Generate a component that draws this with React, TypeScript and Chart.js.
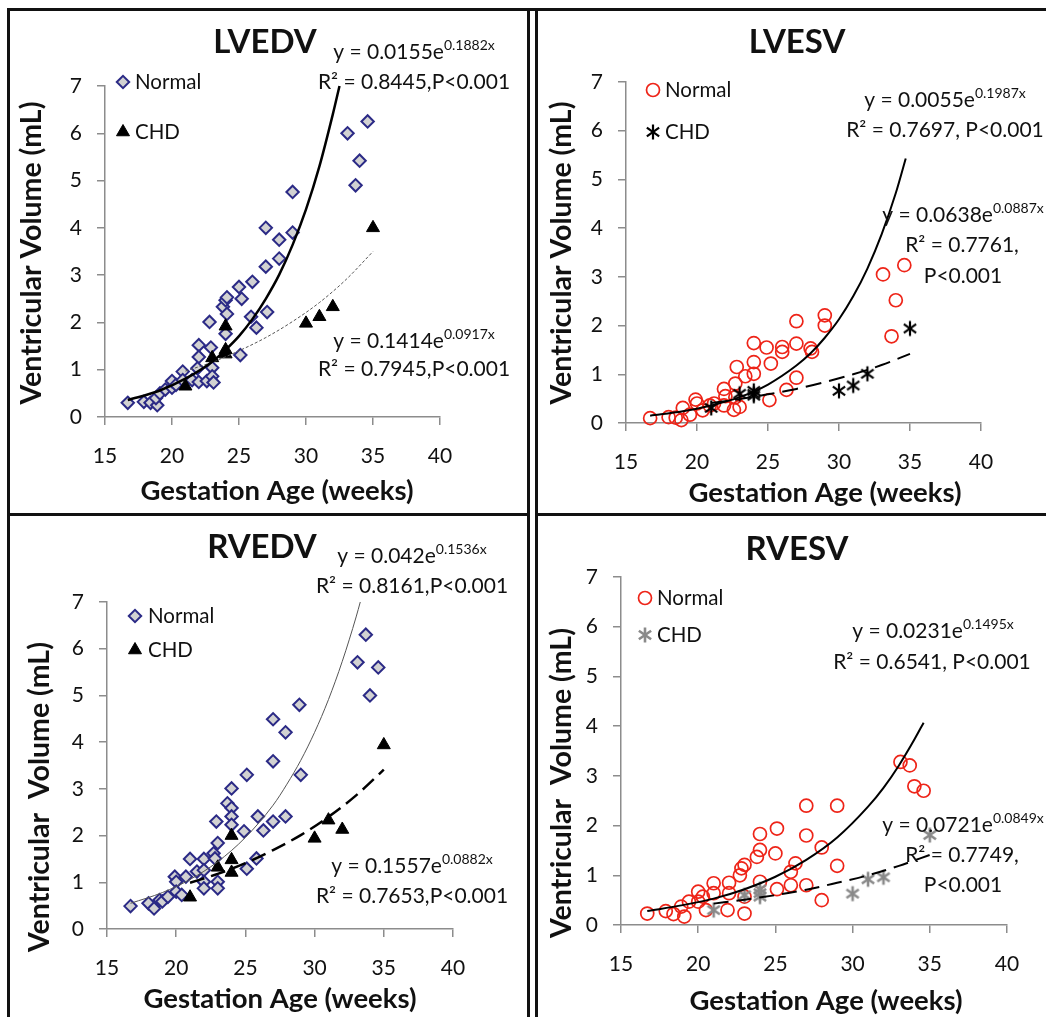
import { useEffect, useRef } from 'react'
import { Chart, registerables } from 'chart.js'
import { drawPoint } from 'chart.js/helpers'

Chart.register(...registerables)

type Pt = [number, number]

// axes shared by all four panels
const X_TICKS = [15, 20, 25, 30, 35, 40]
const Y_TICKS = [0, 1, 2, 3, 4, 5, 6, 7]
const SERIES = ['Normal', 'CHD']
const X_TITLE = 'Gestation Age (weeks)'

// LVEDV
const LVEDV_NORMAL: Pt[] = [
  [16.7, 0.3], [17.9, 0.32], [18.4, 0.3], [18.9, 0.25], [18.8, 0.4], [19.1, 0.5], [19.5, 0.58],
  [20.0, 0.62], [20.0, 0.76], [20.3, 0.68], [20.8, 0.96], [20.8, 0.78], [21.5, 0.78], [22.0, 1.52],
  [22.0, 1.27], [21.9, 1.03], [22.0, 0.74], [22.6, 0.76], [22.9, 1.47], [22.8, 2.01], [23.0, 1.04],
  [23.0, 0.86], [23.1, 0.73], [23.8, 2.33], [24.0, 2.47], [24.1, 2.53], [24.1, 2.18], [24.0, 1.76],
  [25.0, 2.75], [25.2, 2.5], [25.1, 1.31], [26.0, 2.86], [25.9, 2.12], [26.3, 1.89], [27.0, 4.0],
  [27.0, 3.18], [27.1, 2.22], [28.0, 3.75], [28.0, 3.35], [29.0, 4.76], [29.0, 3.9], [33.1, 6.0],
  [33.7, 4.9], [34.0, 5.42], [34.6, 6.25],
]
const LVEDV_CHD: Pt[] = [
  [21, 0.65], [23, 1.25], [24, 1.92], [24, 1.42], [24, 1.33], [30, 1.98], [31, 2.12], [32, 2.33], [35, 4.0],
]
const LVEDV_NORMAL_FIT: Pt[] = [
  [16.7, 0.36], [19, 0.55], [21, 0.81], [23, 1.17], [24, 1.42], [25, 1.71], [26, 2.07], [27, 2.5],
  [28, 3.01], [29, 3.64], [30, 4.39], [31, 5.3], [32, 6.4], [32.5, 7.0],
]
const LVEDV_CHD_FIT: Pt[] = [
  [21, 0.97], [23, 1.16], [25, 1.4], [27, 1.68], [29, 2.02], [31, 2.42], [33, 2.91], [35, 3.5],
]

// LVESV
const LVESV_NORMAL: Pt[] = [
  [16.7, 0.1], [18.0, 0.12], [18.5, 0.11], [18.9, 0.06], [19.0, 0.31], [19.5, 0.17], [19.9, 0.48],
  [20.0, 0.4], [20.4, 0.26], [20.9, 0.36], [21.2, 0.4], [21.9, 0.7], [22.0, 0.55], [21.9, 0.36],
  [22.7, 0.81], [22.8, 1.15], [22.7, 0.53], [23.0, 0.33], [22.6, 0.27], [23.4, 0.96], [24.0, 1.25],
  [24.0, 1.01], [24.0, 1.64], [25.2, 1.22], [24.9, 1.55], [25.1, 0.47], [26.0, 1.56], [26.0, 1.46],
  [26.3, 0.68], [27.0, 2.09], [27.0, 1.63], [27.0, 0.93], [28.0, 1.53], [28.1, 1.46], [29.0, 2.21],
  [29.0, 2.0], [33.1, 3.05], [34.6, 3.24], [34.0, 2.52], [33.7, 1.78],
]
const LVESV_CHD: Pt[] = [
  [21, 0.31], [23, 0.6], [24, 0.66], [24, 0.6], [24, 0.56], [30, 0.66], [31, 0.77], [32, 1.01], [35, 1.94],
]
const LVESV_NORMAL_FIT: Pt[] = [
  [16.7, 0.15], [19, 0.24], [21, 0.36], [23, 0.53], [25, 0.79], [27, 1.18], [28, 1.43], [29, 1.75],
  [30, 2.13], [31, 2.6], [32, 3.17], [33, 3.87], [34, 4.72], [34.7, 5.43],
]
const LVESV_CHD_FIT: Pt[] = [
  [21, 0.41], [23, 0.49], [25, 0.59], [27, 0.7], [29, 0.84], [31, 1.0], [33, 1.19], [35, 1.42],
]

// RVEDV
const RVEDV_NORMAL: Pt[] = [
  [16.7, 0.49], [18.0, 0.55], [18.4, 0.44], [18.8, 0.62], [19.0, 0.59], [19.4, 0.69], [19.9, 1.12],
  [20.0, 1.01], [20.0, 0.8], [20.4, 0.73], [21.0, 1.5], [20.7, 1.12], [21.5, 1.23], [22.0, 1.5],
  [22.0, 1.26], [22.0, 1.01], [22.0, 0.87], [22.7, 1.62], [22.8, 1.51], [22.9, 2.3], [23.0, 1.84],
  [23.0, 1.01], [23.0, 0.87], [23.7, 2.69], [24.0, 3.01], [24.0, 2.59], [24.0, 2.41], [24.0, 2.23],
  [25.1, 3.3], [24.9, 2.09], [25.1, 1.29], [25.9, 2.41], [26.3, 2.11], [25.8, 1.51], [27.0, 4.49],
  [27.0, 3.59], [27.0, 2.3], [27.9, 4.21], [27.9, 2.41], [28.9, 4.8], [29.0, 3.3], [33.1, 5.71],
  [33.7, 6.3], [34.0, 5.0], [34.6, 5.6],
]
const RVEDV_CHD: Pt[] = [
  [21, 0.68], [23, 1.32], [24, 2.0], [24, 1.48], [24, 1.21], [30, 1.94], [31, 2.33], [32, 2.13], [35, 3.94],
]
const RVEDV_NORMAL_FIT: Pt[] = [
  [16.7, 0.55], [19, 0.78], [21, 1.06], [23, 1.44], [25, 1.96], [27, 2.65], [28, 3.1], [29, 3.61],
  [30, 4.21], [31, 4.91], [32, 5.73], [33, 6.68], [33.3, 7.0],
]
const RVEDV_CHD_FIT: Pt[] = [
  [21, 0.99], [23, 1.18], [25, 1.41], [27, 1.69], [29, 2.01], [31, 2.4], [33, 2.86], [35, 3.41],
]

// RVESV
const RVESV_NORMAL: Pt[] = [
  [16.7, 0.23], [17.9, 0.28], [18.4, 0.22], [19.1, 0.17], [18.9, 0.37], [19.4, 0.47], [20.0, 0.67],
  [20.0, 0.47], [20.3, 0.57], [20.5, 0.3], [21.0, 0.84], [21.0, 0.64], [22.0, 0.85], [22.0, 0.64],
  [21.9, 0.3], [22.7, 1.0], [22.8, 1.14], [23.0, 1.21], [23.0, 0.57], [23.0, 0.23], [23.8, 1.37],
  [24.0, 1.83], [24.0, 1.51], [24.0, 0.87], [25.1, 1.94], [25.0, 1.44], [25.1, 0.72], [26.0, 1.07],
  [26.3, 1.24], [26.0, 0.8], [27.0, 2.4], [27.0, 1.8], [27.0, 0.8], [28.0, 1.56], [28.0, 0.5],
  [29.0, 2.4], [29.0, 1.19], [33.1, 3.28], [33.7, 3.21], [34.0, 2.79], [34.6, 2.7],
]
const RVESV_CHD: Pt[] = [
  [21, 0.3], [23, 0.6], [24, 0.72], [24, 0.64], [24, 0.57], [30, 0.63], [31, 0.92], [32, 0.96], [35, 1.81],
]
const RVESV_NORMAL_FIT: Pt[] = [
  [16.7, 0.28], [19, 0.4], [21, 0.53], [23, 0.72], [25, 0.97], [27, 1.31], [29, 1.76], [31, 2.38],
  [32, 2.76], [33, 3.21], [34, 3.73], [34.6, 4.07],
]
const RVESV_CHD_FIT: Pt[] = [
  [21, 0.43], [23, 0.51], [25, 0.6], [27, 0.71], [29, 0.85], [31, 1.0], [33, 1.19], [35, 1.41],
]

const FONT = 'Lato, "Open Sans", sans-serif'
const INK = '#111111'
const AXIS = '#8c8c8c'
const Y_AXIS_W = 60
const X_AXIS_H = 62

type Marker = 'diamond' | 'circle' | 'triangle' | 'asterisk' | 'asteriskGray'
type Part = { t: string; sup?: boolean }
type Label = { parts: Part[]; x: number; y: number }
type LineStyle = { color: string; width: number; dash: number[] }

interface Panel {
  title: string
  box: { left: number; top: number; width: number; height: number }
  area: { left: number; top: number; right: number; bottom: number }
  normal: Pt[]
  chd: Pt[]
  normalFit: Pt[]
  chdFit: Pt[]
  normalMarker: Marker
  chdMarker: Marker
  normalLine: LineStyle
  chdLine: LineStyle
  titlePos: { x: number; y: number }
  legend: { x: number; textX: number; rows: number[] }
  labels: Label[]
  yTitle: { text: string; x: number; y: number }
  xTitle: { x: number; y: number }
}

const eq = (main: string, sup: string): Part[] => [{ t: main }, { t: sup, sup: true }]
const txt = (t: string): Part[] => [{ t }]

const PANELS: Panel[] = [
  {
    title: 'LVEDV',
    box: { left: 0, top: 0, width: 528, height: 514 },
    area: { left: 105, top: 86, right: 440, bottom: 417 },
    normal: LVEDV_NORMAL, chd: LVEDV_CHD, normalFit: LVEDV_NORMAL_FIT, chdFit: LVEDV_CHD_FIT,
    normalMarker: 'diamond', chdMarker: 'triangle',
    normalLine: { color: '#000000', width: 2.5, dash: [] },
    chdLine: { color: '#555555', width: 1, dash: [3, 2] },
    titlePos: { x: 265, y: 53 },
    legend: { x: 123, textX: 135, rows: [82, 132] },
    labels: [
      { parts: eq('y = 0.0155e', '0.1882x'), x: 414, y: 59 },
      { parts: txt('R² = 0.8445,P<0.001'), x: 414, y: 89 },
      { parts: eq('y = 0.1414e', '0.0917x'), x: 414, y: 348 },
      { parts: txt('R² = 0.7945,P<0.001'), x: 414, y: 376 },
    ],
    yTitle: { text: 'Ventricular Volume (mL)', x: 32, y: 253 },
    xTitle: { x: 277, y: 500 },
  },
  {
    title: 'LVESV',
    box: { left: 536, top: 0, width: 510, height: 514 },
    area: { left: 90, top: 82, right: 445, bottom: 423 },
    normal: LVESV_NORMAL, chd: LVESV_CHD, normalFit: LVESV_NORMAL_FIT, chdFit: LVESV_CHD_FIT,
    normalMarker: 'circle', chdMarker: 'asterisk',
    normalLine: { color: '#000000', width: 2, dash: [] },
    chdLine: { color: '#000000', width: 2, dash: [16, 8] },
    titlePos: { x: 261, y: 53 },
    legend: { x: 117, textX: 129, rows: [90, 132] },
    labels: [
      { parts: eq('y = 0.0055e', '0.1987x'), x: 409, y: 107 },
      { parts: txt('R² = 0.7697, P<0.001'), x: 409, y: 137 },
      { parts: eq('y = 0.0638e', '0.0887x'), x: 427, y: 222 },
      { parts: txt('R² = 0.7761,'), x: 426, y: 252 },
      { parts: txt('P<0.001'), x: 427, y: 283 },
    ],
    yTitle: { text: 'Ventricular Volume (mL)', x: 26, y: 253 },
    xTitle: { x: 289, y: 502 },
  },
  {
    title: 'RVEDV',
    box: { left: 0, top: 514, width: 528, height: 503 },
    area: { left: 107, top: 88, right: 453, bottom: 415 },
    normal: RVEDV_NORMAL, chd: RVEDV_CHD, normalFit: RVEDV_NORMAL_FIT, chdFit: RVEDV_CHD_FIT,
    normalMarker: 'diamond', chdMarker: 'triangle',
    normalLine: { color: '#555555', width: 1, dash: [] },
    chdLine: { color: '#000000', width: 2.5, dash: [15, 7] },
    titlePos: { x: 262, y: 44 },
    legend: { x: 135, textX: 148, rows: [102, 136] },
    labels: [
      { parts: eq('y = 0.042e', '0.1536x'), x: 412, y: 49 },
      { parts: txt('R² = 0.8161,P<0.001'), x: 412, y: 79 },
      { parts: eq('y = 0.1557e', '0.0882x'), x: 412, y: 359 },
      { parts: txt('R² = 0.7653,P<0.001'), x: 412, y: 389 },
    ],
    yTitle: { text: 'Ventricular  Volume (mL)', x: 40, y: 283 },
    xTitle: { x: 280, y: 494 },
  },
  {
    title: 'RVESV',
    box: { left: 536, top: 514, width: 510, height: 503 },
    area: { left: 85, top: 63, right: 471, bottom: 411 },
    normal: RVESV_NORMAL, chd: RVESV_CHD, normalFit: RVESV_NORMAL_FIT, chdFit: RVESV_CHD_FIT,
    normalMarker: 'circle', chdMarker: 'asteriskGray',
    normalLine: { color: '#000000', width: 2, dash: [] },
    chdLine: { color: '#000000', width: 2, dash: [15, 8] },
    titlePos: { x: 261, y: 46 },
    legend: { x: 109, textX: 121, rows: [84, 121] },
    labels: [
      { parts: eq('y = 0.0231e', '0.1495x'), x: 397, y: 124 },
      { parts: txt('R² = 0.6541, P<0.001'), x: 396, y: 155 },
      { parts: eq('y = 0.0721e', '0.0849x'), x: 427, y: 318 },
      { parts: txt('R² = 0.7749,'), x: 426, y: 348 },
      { parts: txt('P<0.001'), x: 427, y: 378 },
    ],
    yTitle: { text: 'Ventricular  Volume (mL)', x: 26, y: 269 },
    xTitle: { x: 290, y: 496 },
  },
]

const FRAME_LINES = [
  { left: 7, top: 8, width: 3, height: 1009 },
  { left: 7, top: 8, width: 1039, height: 3 },
  { left: 527, top: 8, width: 3, height: 1009 },
  { left: 535, top: 8, width: 3, height: 1009 },
  { left: 7, top: 513, width: 523, height: 3 },
  { left: 535, top: 513, width: 511, height: 3 },
]

function asterisk(color: string, lw: number): HTMLCanvasElement {
  const c = document.createElement('canvas')
  c.width = 18
  c.height = 18
  const g = c.getContext('2d')!
  g.strokeStyle = color
  g.lineWidth = lw
  const r = 7.5
  for (const deg of [90, 35, 145]) {
    const a = (deg * Math.PI) / 180
    g.beginPath()
    g.moveTo(9 - r * Math.cos(a), 9 - r * Math.sin(a))
    g.lineTo(9 + r * Math.cos(a), 9 + r * Math.sin(a))
    g.stroke()
  }
  return c
}

function markerStyle(kind: Marker) {
  switch (kind) {
    case 'diamond':
      return { pointStyle: 'rectRot' as const, radius: 6.2, backgroundColor: '#d2d2d2', borderColor: '#2b2a86', borderWidth: 2 }
    case 'circle':
      return { pointStyle: 'circle' as const, radius: 6.5, backgroundColor: 'rgba(255,255,255,0)', borderColor: '#ee2418', borderWidth: 1.7 }
    case 'triangle':
      return { pointStyle: 'triangle' as const, radius: 7.5, backgroundColor: '#000000', borderColor: '#000000', borderWidth: 1 }
    case 'asterisk':
      return { pointStyle: asterisk('#000000', 2.2) as any, radius: 8, backgroundColor: '#000000', borderColor: '#000000', borderWidth: 2 }
    default:
      return { pointStyle: asterisk('#8a8a8a', 2.6) as any, radius: 8, backgroundColor: '#8a8a8a', borderColor: '#8a8a8a', borderWidth: 2 }
  }
}

function textPlugin(p: Panel, markers: ReturnType<typeof markerStyle>[]) {
  return {
    id: 'panelText',
    afterDraw(chart: Chart) {
      const ctx = chart.ctx
      ctx.save()
      ctx.fillStyle = INK
      ctx.textAlign = 'center'
      ctx.textBaseline = 'alphabetic'

      ctx.font = `bold 33px ${FONT}`
      ctx.fillText(p.title, p.titlePos.x, p.titlePos.y)

      ctx.font = `bold 27.5px ${FONT}`
      ctx.fillText(X_TITLE, p.xTitle.x, p.xTitle.y)
      ctx.save()
      ctx.font = `bold 28.5px ${FONT}`
      ctx.translate(p.yTitle.x, p.yTitle.y)
      ctx.rotate(-Math.PI / 2)
      ctx.textBaseline = 'middle'
      ctx.fillText(p.yTitle.text, 0, 0)
      ctx.restore()

      // legend
      p.legend.rows.forEach((ry, i) => {
        const m = markers[i]
        ctx.save()
        ctx.fillStyle = m.backgroundColor
        ctx.strokeStyle = m.borderColor
        ctx.lineWidth = m.borderWidth
        drawPoint(ctx, { pointStyle: m.pointStyle, radius: m.radius, borderWidth: m.borderWidth, rotation: 0 }, p.legend.x, ry)
        ctx.restore()
        ctx.fillStyle = INK
        ctx.textAlign = 'left'
        ctx.font = `20.5px ${FONT}`
        ctx.fillText(SERIES[i], p.legend.textX, ry + 7)
      })

      // trend equations
      ctx.textAlign = 'left'
      for (const lab of p.labels) {
        const widths = lab.parts.map((part) => {
          ctx.font = part.sup ? `14px ${FONT}` : `21px ${FONT}`
          return ctx.measureText(part.t).width
        })
        let x = lab.x - widths.reduce((a, b) => a + b, 0) / 2
        lab.parts.forEach((part, i) => {
          ctx.font = part.sup ? `14px ${FONT}` : `21px ${FONT}`
          ctx.fillText(part.t, x, part.sup ? lab.y - 9 : lab.y)
          x += widths[i]
        })
      }
      ctx.restore()
    },
  }
}

function PanelChart({ panel }: { panel: Panel }) {
  const ref = useRef<HTMLCanvasElement>(null)

  useEffect(() => {
    if (!ref.current) return
    const { box, area } = panel
    const nm = markerStyle(panel.normalMarker)
    const cm = markerStyle(panel.chdMarker)
    const toXY = (pts: Pt[]) => pts.map(([x, y]) => ({ x, y }))
    const fit = (pts: Pt[], s: LineStyle) => ({
      type: 'line' as const,
      data: toXY(pts),
      borderColor: s.color,
      borderWidth: s.width,
      borderDash: s.dash,
      pointRadius: 0,
      fill: false,
      cubicInterpolationMode: 'monotone' as const,
      clip: false as const,
      order: 0,
    })
    const tickFont = { family: FONT, size: 21 }
    const axisCommon = {
      type: 'linear' as const,
      grid: { drawOnChartArea: false, drawTicks: true, tickLength: 8, color: AXIS, lineWidth: 1.5 },
      border: { display: true, color: AXIS, width: 1.5 },
    }

    const chart = new Chart(ref.current, {
      type: 'scatter',
      data: {
        datasets: [
          fit(panel.normalFit, panel.normalLine),
          fit(panel.chdFit, panel.chdLine),
          { label: SERIES[1], data: toXY(panel.chd), ...cm, pointRadius: cm.radius, pointStyle: cm.pointStyle, clip: false, order: 1 },
          { label: SERIES[0], data: toXY(panel.normal), ...nm, pointRadius: nm.radius, pointStyle: nm.pointStyle, clip: false, order: 2 },
        ] as any,
      },
      options: {
        responsive: false,
        animation: false,
        events: [],
        layout: {
          padding: {
            left: area.left - Y_AXIS_W,
            top: area.top,
            right: box.width - area.right,
            bottom: box.height - area.bottom - X_AXIS_H,
          },
        },
        plugins: { legend: { display: false }, tooltip: { enabled: false } },
        scales: {
          x: {
            ...axisCommon,
            min: X_TICKS[0],
            max: X_TICKS[X_TICKS.length - 1],
            afterBuildTicks: (s: any) => { s.ticks = X_TICKS.map((value) => ({ value })) },
            afterFit: (s: any) => { s.height = X_AXIS_H },
            ticks: { font: tickFont, color: INK, padding: 19, maxRotation: 0 },
          },
          y: {
            ...axisCommon,
            min: Y_TICKS[0],
            max: Y_TICKS[Y_TICKS.length - 1],
            afterBuildTicks: (s: any) => { s.ticks = Y_TICKS.map((value) => ({ value })) },
            afterFit: (s: any) => { s.width = Y_AXIS_W },
            ticks: { font: tickFont, color: INK, padding: 15 },
          },
        },
      },
      plugins: [textPlugin(panel, [nm, cm])],
    })
    return () => chart.destroy()
  }, [panel])

  const { box } = panel
  return (
    <canvas
      ref={ref}
      width={box.width}
      height={box.height}
      style={{ position: 'absolute', left: box.left, top: box.top, width: box.width, height: box.height }}
    />
  )
}

export default function App() {
  return (
    <div style={{ position: 'absolute', left: 0, top: 0, width: 1046, height: 1017, background: '#ffffff', overflow: 'hidden' }}>
      {PANELS.map((p) => (
        <PanelChart key={p.title} panel={p} />
      ))}
      {FRAME_LINES.map((l, i) => (
        <div key={i} style={{ position: 'absolute', background: '#111111', ...l }} />
      ))}
    </div>
  )
}
